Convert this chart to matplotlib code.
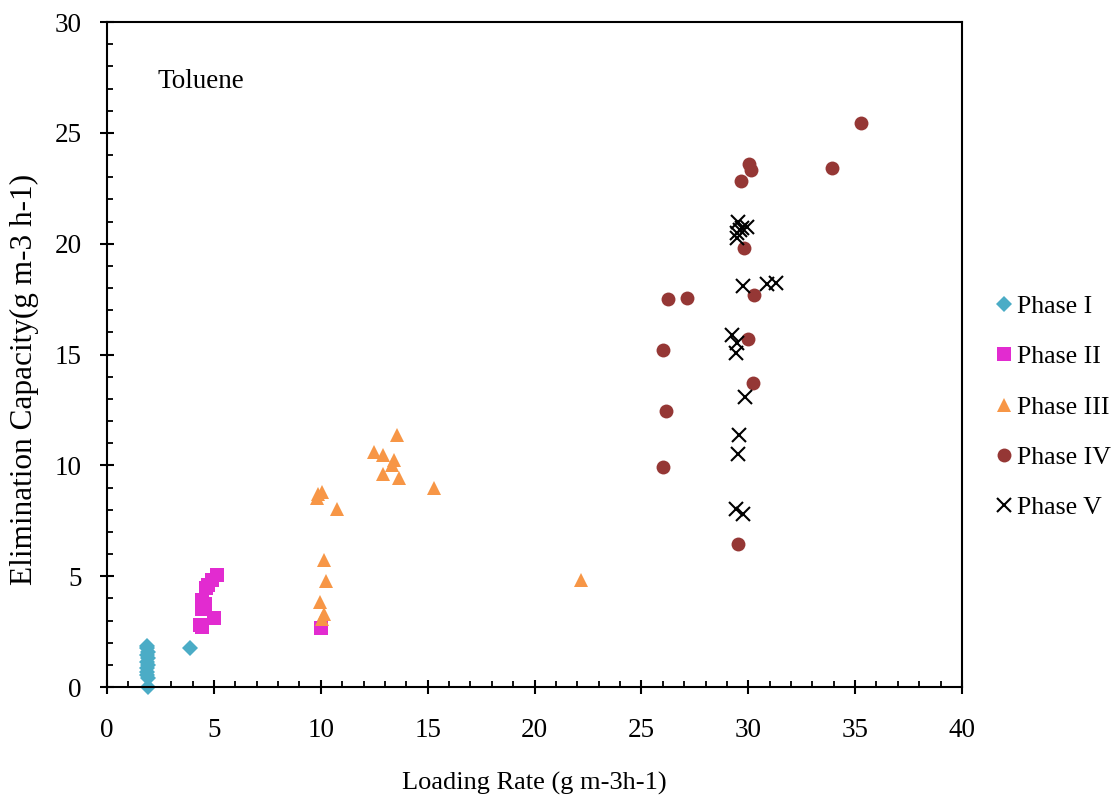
import matplotlib.pyplot as plt
from matplotlib.ticker import MultipleLocator

plt.rcParams['font.family'] = 'Liberation Serif'

# loading rate / elimination capacity for each operating phase
p1_x = [1.85, 1.88, 1.9, 1.87, 1.9, 1.88, 1.9, 1.87, 1.89, 1.88, 1.9, 1.9, 3.9]
p1_y = [1.85, 1.75, 1.6, 1.45, 1.3, 1.15, 1.0, 0.85, 0.7, 0.55, 0.4, 0.0, 1.75]

p2_x = [5.13, 4.9, 4.74, 4.63, 4.43, 4.5, 4.6, 4.45, 5.02, 4.35, 4.43, 10.01]
p2_y = [5.05, 4.83, 4.6, 4.45, 3.92, 3.62, 3.75, 3.5, 3.1, 2.8, 2.7, 2.66]

p3_x = [13.55, 12.51, 12.9, 13.43, 13.32, 12.93, 13.66, 15.3, 10.04, 9.89, 9.84,
        10.75, 10.14, 10.23, 9.96, 10.15, 10.07, 22.18]
p3_y = [11.37, 10.59, 10.46, 10.24, 10.01, 9.59, 9.41, 8.98, 8.81, 8.69, 8.51,
        8.01, 5.73, 4.79, 3.82, 3.29, 3.05, 4.83]

p4_x = [35.26, 30.04, 30.13, 29.66, 33.92, 29.8, 26.26, 27.15, 30.28, 30.0,
        26.03, 30.22, 26.17, 26.03, 29.52]
p4_y = [25.45, 23.59, 23.32, 22.82, 23.4, 19.79, 17.49, 17.56, 17.67, 15.71,
        15.21, 13.7, 12.46, 9.92, 6.45]

p5_x = [29.54, 29.93, 29.69, 29.46, 29.6, 29.46, 29.74, 30.89, 31.3, 29.22,
        29.46, 29.43, 29.86, 29.58, 29.5, 29.43, 29.77]
p5_y = [20.99, 20.76, 20.73, 20.46, 20.6, 20.24, 18.09, 18.18, 18.24, 15.88,
        15.53, 15.05, 13.07, 11.37, 10.5, 8.01, 7.79]

fig = plt.figure(figsize=(11.16, 7.95), dpi=100)
ax = fig.add_axes([0.0959, 0.1358, 0.7661, 0.8365])

ax.plot(p1_x, p1_y, 'D', color='#4BACC6', ms=8, mew=0, label='Phase I', clip_on=False)
ax.plot(p2_x, p2_y, 's', color='#E22BD0', ms=9.5, mew=0, label='Phase II', clip_on=False)
ax.plot(p3_x, p3_y, '^', color='#F79646', ms=10, mew=0, label='Phase III', clip_on=False)
ax.plot(p4_x, p4_y, 'o', color='#953735', ms=10, mew=0, label='Phase IV', clip_on=False)
ax.plot(p5_x, p5_y, 'x', color='black', ms=10, mew=1.5, label='Phase V', clip_on=False)

ax.set_xlim(0, 40)
ax.set_ylim(0, 30)
ax.xaxis.set_major_locator(MultipleLocator(5))
ax.xaxis.set_minor_locator(MultipleLocator(1))
ax.yaxis.set_major_locator(MultipleLocator(5))
ax.yaxis.set_minor_locator(MultipleLocator(1))
ax.tick_params(which='major', direction='inout', length=10.5, width=1.5,
               labelsize=19.5)
ax.tick_params(axis='x', which='major', pad=17)
ax.tick_params(axis='y', which='major', pad=13)
ax.tick_params(which='minor', direction='in', length=4.3, width=1.3)
for s in ax.spines.values():
    s.set_linewidth(1.5)

ax.set_xlabel('Loading Rate (g m-3h-1)', fontsize=19, labelpad=21)
ax.set_ylabel('Elimination Capacity(g m-3 h-1)', fontsize=22.5, labelpad=11)
ax.yaxis.label.set_y(0.462)
ax.text(2.34, 27.3, 'Toluene', fontsize=19.5, va='center', ha='left')

ax.legend(loc='center left', bbox_to_anchor=(1.04, 0.421), frameon=False,
          fontsize=18.6, handlelength=0.6, handletextpad=0.2, labelspacing=1.05,
          borderpad=0, borderaxespad=0)

fig.savefig('out.png', dpi=100)
